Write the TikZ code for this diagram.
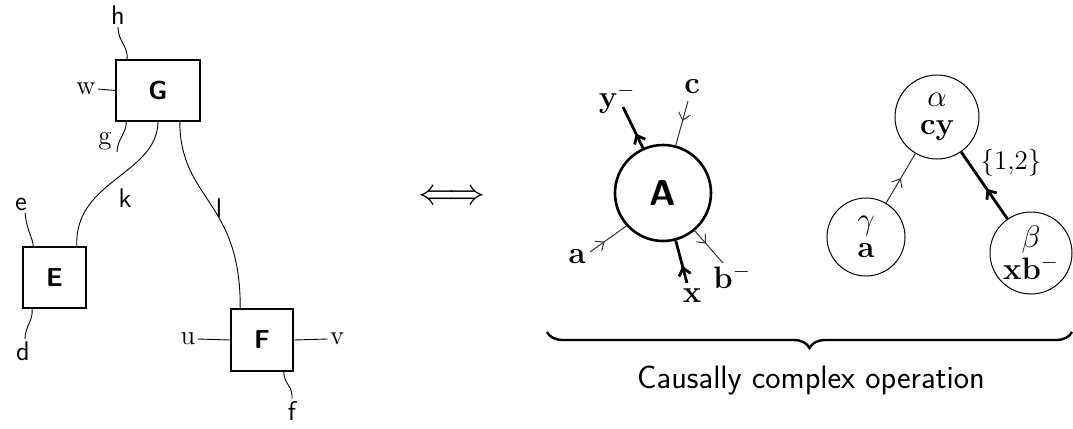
\RequirePackage{fix-cm}
\documentclass[tikz,border=0pt]{standalone}
\usepackage{graphicx}
\usetikzlibrary{decorations.markings,decorations.pathreplacing,arrows.meta,calc}
\begin{document}
\begin{tikzpicture}[x=0.5pt,y=-0.5pt,
  box/.style={draw, line width=0.8pt, inner sep=0pt, font=\sffamily\bfseries\fontsize{13}{13}\selectfont},
  wire/.style={line width=0.45pt},
  lbl/.style={inner sep=1pt, font=\sffamily\fontsize{13.5}{13.5}\selectfont},
  lblr/.style={inner sep=1pt, font=\rmfamily\fontsize{13.5}{13.5}\selectfont},
  blbl/.style={inner sep=1pt, font=\rmfamily\bfseries\fontsize{15.5}{15.5}\selectfont},
  thinw/.style={line width=0.5pt, draw=black!80},
  thickw/.style={line width=1.4pt},
  midarrow/.style={postaction={decorate}, decoration={markings, mark=at position #1 with {\arrow{Straight Barb[length=3.5pt,width=6pt]}}}},
  tcirc/.style={circle, draw, line width=0.5pt, inner sep=0pt, align=center, font=\fontsize{15.5}{14}\selectfont}
]
\useasboundingbox[fill=white] (0,0) rectangle (1073,429);

% ---------- left diagram ----------
\node[box, minimum width=42pt, minimum height=30.5pt] (G) at (158,90.5) {G};
\node[box, minimum width=31.5pt, minimum height=30.5pt] (E) at (54.5,277.5) {E};
\node[box, minimum width=31pt, minimum height=31pt] (F) at (262,340) {F};

\node[lbl] (hl) at (118,15) {h};
\node[lblr] (wl) at (86,89) {w};
\node[lblr] (gl) at (105,141) {g};
\node[lbl] (el) at (21,204) {e};
\node[lbl] (dl) at (23,351) {d};
\node[lbl] (fl) at (292,411) {f};
\node[lblr] (ul) at (188,339) {u};
\node[lblr] (vl) at (337,339) {v};
\node[lbl] (kl) at (125,198) {k};
\node[lbl] (ll) at (219,208) {l};
\coordinate (gend) at (117,152);

\draw[wire] ([xshift=6pt]G.north west) .. controls (128,45) and (118,42) .. (hl.south);
\draw[wire] (wl.east) -- (G.west);
\draw[wire] ([xshift=5.5pt]G.south west) .. controls (127,132) and (117,140) .. (gend);
\draw[wire] ([xshift=2pt]el.south) .. controls (27,232) and (33,238) .. ([xshift=5.5pt]E.north west);
\draw[wire] ([xshift=5pt]E.south west) .. controls (33,322) and (25,326) .. ([xshift=1pt]dl.north);
\draw[wire] ([xshift=-5pt]F.south east) .. controls (284,385) and (293,385) .. (fl.north);
\draw[wire] (ul.east) -- (F.west);
\draw[wire] (F.east) -- (vl.west);
\draw[wire] (G.south) .. controls (157,175) and (74,180) .. ([xshift=-5pt]E.north east);
\draw[wire] ([xshift=-10.5pt]G.south east) .. controls (180,200) and (241,200) .. ([xshift=5pt]F.north west);

% ---------- equivalence ----------
\node (iff) at (452,198) {\scalebox{1.85}{$\Longleftrightarrow$}};

% ---------- operation A ----------
\node[circle, draw, line width=1.3pt, minimum size=48pt, inner sep=0pt, font=\sffamily\bfseries\fontsize{18}{18}\selectfont] (A) at (663,193) {A};
\coordinate (yend) at (623,107);
\coordinate (cend) at (688,101);
\coordinate (aend) at (590,252);
\coordinate (bend) at (723,263);
\coordinate (xend) at (687,283);
\node[blbl] (yl) at (617,99) {y$^-$};
\node[blbl] (cl) at (692,87) {c};
\node[blbl] (al2) at (577,257) {a};
\node[blbl] (bl) at (732,277) {b$^-$};
\node[blbl] (xl) at (692,296) {x};
\draw[thickw, midarrow=0.35] (A.114) -- (yend);
\draw[thinw, midarrow=0.45] (cend) -- (A.75);
\draw[thinw, midarrow=0.4] (aend) -- (A.222);
\draw[thinw, midarrow=0.4] (A.310) -- (bend);
\draw[thickw, midarrow=0.4] (xend) -- (A.285);

% ---------- tree ----------
\node[tcirc, minimum size=42pt] (al) at (937,117) {$\alpha$\\\textbf{cy}};
\node[tcirc, minimum size=39pt] (ga) at (866,237) {$\gamma$\\\textbf{a}};
\node[tcirc, minimum size=41pt] (be) at (1031,253) {$\beta$\\\textbf{xb}$^-$};
\draw[thinw, midarrow=0.5] (ga) -- (al);
\draw[thickw, midarrow=0.45] (be) -- (al);
\node[inner sep=1pt, font=\fontsize{13.5}{13.5}\selectfont] (lab12) at (1011,163) {$\{1{,}2\}$};

% ---------- brace ----------
\coordinate (brl) at (547,332);
\coordinate (brr) at (1072,332);
\draw[line width=1.2pt, decorate, decoration={brace, mirror, amplitude=8pt}] (brl) -- (brr);
\node[font=\sffamily\fontsize{16.2}{16.2}\selectfont] (cap) at (811,381) {Causally complex operation};
\end{tikzpicture}
\end{document}
